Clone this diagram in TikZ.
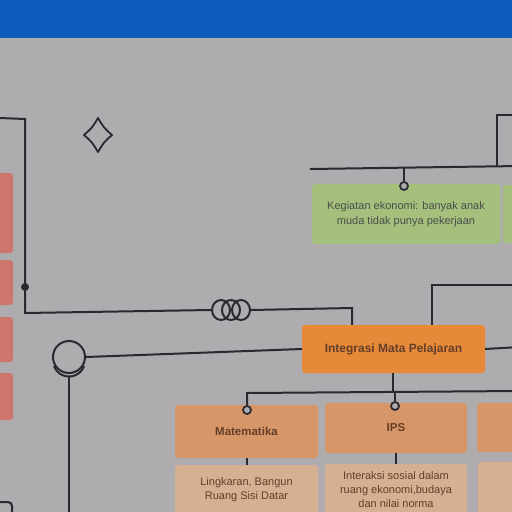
\documentclass[tikz,border=0pt]{standalone}
\usepackage{fontspec}
\setmainfont{Liberation Sans}

\definecolor{bandc}{RGB}{12,92,188}
\definecolor{bgc}{RGB}{174,172,175}
\definecolor{wirec}{RGB}{42,41,48}
\definecolor{redc}{RGB}{204,118,108}
\definecolor{greenc}{RGB}{164,192,124}
\definecolor{orangec}{RGB}{230,138,58}
\definecolor{tanc}{RGB}{214,150,104}
\definecolor{lighttanc}{RGB}{214,176,146}
\definecolor{textc}{RGB}{100,62,40}

\begin{document}
\begin{tikzpicture}[x=1pt,y=-1pt,
    wire/.style={draw=wirec, line width=2pt},
    card/.style={rounded corners=3pt, inner sep=2pt, align=center, text=textc, font=\fontsize{11}{14}\selectfont},
    ring/.style={circle, draw=wirec, line width=1.8pt, fill=bgc, minimum size=8pt, inner sep=0pt}]

    % background and top band
    \useasboundingbox (0,0) rectangle (512,512);
    \fill[bgc] (0,0) rectangle (512,512);
    \fill[bandc] (0,0) rectangle (512,38);

    % red cards on the left
    \node (r1) at (-7,213) [card, fill=redc, minimum width=40pt, minimum height=80pt] {};
    \node (r2) at (-7,282.5) [card, fill=redc, minimum width=40pt, minimum height=45pt] {};
    \node (r3) at (-7,339.5) [card, fill=redc, minimum width=40pt, minimum height=45pt] {};
    \node (r4) at (-7,396.5) [card, fill=redc, minimum width=40pt, minimum height=47pt] {};

    % green cards
    \node (g1) at (406,214) [card, fill=greenc, text=black!70, minimum width=188pt, minimum height=60pt, font=\fontsize{11}{15}\selectfont] {Kegiatan ekonomi: banyak anak\\muda tidak punya pekerjaan};
    \node (g2) at (524,214) [card, fill=greenc, minimum width=42pt, minimum height=58pt] {};

    % main card
    \node (title) at (393.5,349) [card, fill=orangec, minimum width=183pt, minimum height=48pt, font=\fontsize{12}{14}\selectfont\bfseries] {Integrasi Mata Pelajaran};

    % subject cards
    \node (mat) at (246.5,431.5) [card, fill=tanc, minimum width=143pt, minimum height=53pt, font=\fontsize{11.5}{14}\selectfont\bfseries] {Matematika};
    \node (ips) at (396,428) [card, fill=tanc, minimum width=142pt, minimum height=50pt, font=\fontsize{11.5}{14}\selectfont\bfseries] {IPS};
    \node (s3) at (548.5,427.5) [card, fill=tanc, minimum width=143pt, minimum height=49pt] {};

    \node (matd) at (246.5,490) [card, fill=lighttanc, minimum width=143pt, minimum height=50pt] {Lingkaran, Bangun\\Ruang Sisi Datar};
    \node (ipsd) at (396,490) [card, fill=lighttanc, minimum width=142pt, minimum height=52pt] {Interaksi sosial dalam\\ruang ekonomi,budaya\\dan nilai norma};
    \node (s3d) at (549.5,488) [card, fill=lighttanc, minimum width=143pt, minimum height=52pt] {};

    % symbols
    \node (coil) at (231,310) [minimum width=40pt, minimum height=20pt, inner sep=0pt] {};
    \draw[wire] (221,310) ellipse [x radius=9, y radius=10];
    \draw[wire] (231,310) ellipse [x radius=9, y radius=10];
    \draw[wire] (241,310) ellipse [x radius=9, y radius=10];

    \node (hub) at (69,357) [circle, wire, minimum size=32pt, inner sep=0pt] {};
    \draw[wire] (54,366) arc[start angle=160, end angle=20, radius=16];

    \draw[wirec, line width=1.8pt, line join=round] (98,118) .. controls (104,128) .. (112,135)
        .. controls (104,142) .. (98,152) .. controls (92,142) .. (84,135)
        .. controls (92,128) .. cycle;

    % junctions
    \coordinate (lt0) at (0,118);
    \coordinate (lt1) at (25,119);
    \coordinate (lt2) at (25,313);
    \coordinate (lt3) at (352,308);
    \node (dot) at (25,287) [circle, fill=wirec, minimum size=8pt, inner sep=0pt] {};

    \coordinate (tr0) at (310,169);
    \coordinate (tr1) at (520,166);
    \coordinate (tr2) at (497,166);
    \coordinate (tr3) at (497,115);
    \coordinate (tr4) at (520,115);
    \coordinate (gdrop) at (404,168);
    \node (gring) at (404,186) [ring] {};

    \coordinate (ut0) at (432,285);
    \coordinate (ut1) at (520,285);
    \coordinate (ir) at (520,347);

    \coordinate (bt0) at (393,392);
    \coordinate (bl) at (247,393);
    \coordinate (br) at (520,391);
    \coordinate (idrop) at (395,392);
    \node (mring) at (247,410) [ring] {};
    \node (iring) at (395,406) [ring] {};

    \coordinate (hubb) at (69,377);
    \coordinate (hubend) at (69,520);

    % connectors
    \draw[wire] (lt0) -- (lt1) -- (lt2) -- (coil.west);
    \draw[wire] (coil.east) -- (lt3) -- (title.north -| lt3);
    \draw[wire] (hub.east) -- (title.west);
    \draw[wire] (hubb) -- (hubend);

    \draw[wire] (tr0) -- (tr1);
    \draw[wire] (tr2) -- (tr3) -- (tr4);
    \draw[wire] (gdrop) -- (gring);

    \draw[wire] (ut1) -- (ut0) -- (ut0 |- title.north);
    \draw[wire] (title.east) -- (ir);

    \draw[wire] (title.south -| bt0) -- (bt0);
    \draw[wire] (br) -- (bl) -- (mring);
    \draw[wire] (idrop) -- (iring);
    \draw[wire] (mat.south) -- (matd.north);
    \draw[wire] (ips.south) -- (ipsd.north);

    \draw[wire, rounded corners=4pt] (-20,502) -- (12,502) -- (12,530);

\end{tikzpicture}
\end{document}
